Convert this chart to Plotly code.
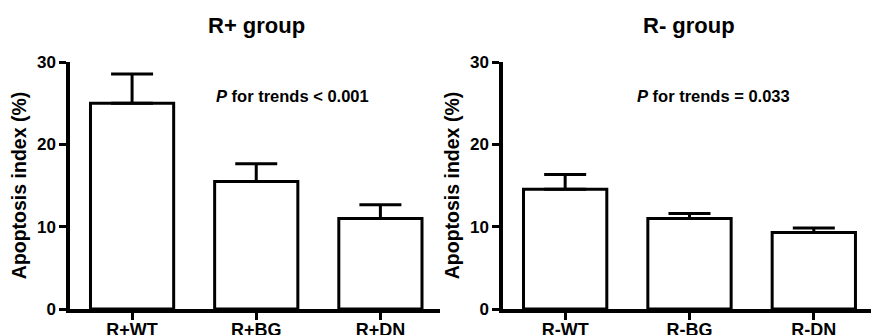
import plotly.graph_objects as go

cats_pos = ["R+WT", "R+BG", "R+DN"]
vals_pos = [25.0, 15.5, 11.0]
err_pos = [3.55, 2.15, 1.65]

cats_neg = ["R-WT", "R-BG", "R-DN"]
vals_neg = [14.55, 11.0, 9.3]
err_neg = [1.8, 0.6, 0.55]

y_ticks = [0, 10, 20, 30]
titles = ["R+ group", "R- group"]
p_texts = ["<i>P</i> for trends < 0.001", "<i>P</i> for trends = 0.033"]

FONT = "Liberation Sans, Arial, Helvetica, sans-serif"

fig = go.Figure()

def add_bars(cats, vals, errs, xa, ya):
    fig.add_trace(go.Bar(
        x=cats, y=vals, xaxis=xa, yaxis=ya, width=0.67,
        marker=dict(color="white", line=dict(color="black", width=3)),
        error_y=dict(type="data", array=errs, arrayminus=[0] * len(errs),
                     color="black", thickness=3, width=21),
        showlegend=False,
    ))

add_bars(cats_pos, vals_pos, err_pos, "x", "y")
add_bars(cats_neg, vals_neg, err_neg, "x2", "y2")

axis_common = dict(showgrid=False, zeroline=False, showline=True, linecolor="black",
                   linewidth=3.5, ticks="outside", ticklen=7, tickwidth=3, tickcolor="black",
                   automargin=False)

xtickfont = dict(family=FONT, size=18, color="black", weight="bold")
ytickfont = dict(family=FONT, size=17, color="black", weight="bold")
ytitlefont = dict(family=FONT, size=19.5, color="black", weight="bold")

xdom1 = [70 / 871, 440 / 871]
xdom2 = [503 / 871, 871 / 871]

fig.update_layout(
    width=871, height=335,
    margin=dict(l=0, r=0, t=62, b=26, autoexpand=False),
    paper_bgcolor="white", plot_bgcolor="white",
    xaxis=dict(domain=xdom1, range=[-0.5, 2.48], anchor="y", tickfont=xtickfont,
               ticklabelstandoff=-5, **axis_common),
    yaxis=dict(domain=[0, 1], range=[0, 30], tickvals=y_ticks, anchor="x", tickfont=ytickfont,
               title=dict(text="Apoptosis index (%)", standoff=6, font=ytitlefont),
               **axis_common),
    xaxis2=dict(domain=xdom2, range=[-0.5, 2.46], anchor="y2", tickfont=xtickfont,
                ticklabelstandoff=-5, **axis_common),
    yaxis2=dict(domain=[0, 1], range=[0, 30], tickvals=y_ticks, anchor="x2", tickfont=ytickfont,
                title=dict(text="Apoptosis index (%)", standoff=6, font=ytitlefont),
                **axis_common),
)

for i, (t, xa, ya) in enumerate(zip(titles, ["x", "x2"], ["y", "y2"])):
    fig.add_annotation(text=t, xref=xa, x=1, yref="paper", y=1, yshift=37,
                       showarrow=False, yanchor="middle",
                       font=dict(family=FONT, size=22, color="black", weight="bold"))
    fig.add_annotation(text=p_texts[i], xref=xa + " domain", x=0.601 if i == 0 else 0.573,
                       yref=ya, y=25.9, showarrow=False, xanchor="center", yanchor="middle",
                       font=dict(family=FONT, size=16.5, color="black", weight="bold"))

fig.write_html("out.html", config={"displayModeBar": False},
               post_script="document.body.style.margin='0';")
